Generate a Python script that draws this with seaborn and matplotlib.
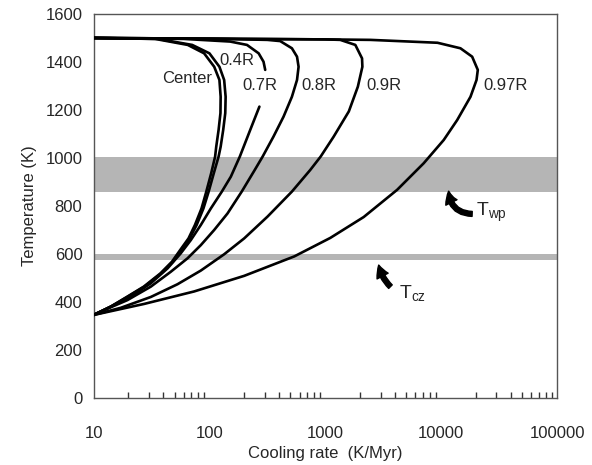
import numpy as np
import pandas as pd
import matplotlib
matplotlib.use("Agg")
import matplotlib.pyplot as plt
import matplotlib.ticker as mticker
import seaborn as sns

# Cooling-rate paths (K/Myr) and temperatures (K) at different radial depths
center_rate = [10, 34, 65, 90, 110, 122, 125, 124.5, 120, 114.5, 112, 103.5, 94, 85.5, 75, 66, 56, 47.5, 37.7, 27.1, 19.5, 14.1, 10]
center_temp = [1500, 1496, 1471, 1436, 1380, 1325, 1255, 1187, 1117, 1047, 1006, 936, 860, 790, 721, 665, 617, 568, 519, 464, 422, 381, 346]

r04_rate = [10, 36, 71, 100, 122, 134, 138, 137, 131.5, 125, 120, 109, 98.5, 88.8, 77.6, 67.6, 57.2, 48.5, 38.3, 27.5, 19.7, 14.1, 10]
r04_temp = [1500, 1496, 1471, 1436, 1380, 1325, 1255, 1187, 1117, 1047, 1006, 936, 860, 790, 721, 665, 617, 568, 519, 464, 422, 381, 346]

r07_upper_rate = [10, 60, 151, 211, 266, 293, 303]
r07_upper_temp = [1500, 1496, 1485, 1471, 1436, 1401, 1367]
r07_lower_rate = [270, 225, 183, 153, 128, 102.9, 84.3, 69.1, 56.6, 43.5, 31.2, 20.9, 14.1, 10]
r07_lower_temp = [1214, 1117, 1006, 922, 860, 790, 721, 658, 603, 540, 478, 422, 381, 346]

r08_rate = [10, 100, 316, 408, 515, 570, 588, 570, 515, 436, 357, 288, 246, 190, 143.3, 109.9, 84.3, 64.7, 46.4, 31.2, 19.6, 10]
r08_temp = [1500, 1497, 1492, 1487, 1457, 1422, 1380, 1325, 1255, 1172, 1089, 1006, 950, 860, 769, 700, 637, 582, 526, 464, 408, 347]

r09_rate = [10, 100, 1000, 1346, 1816, 2075, 2089, 1909, 1596, 1181, 912, 741, 515, 317.5, 199.5, 134.1, 84.3, 53, 31.2, 17.2, 10]
r09_temp = [1500, 1497, 1494, 1492, 1471, 1415, 1380, 1297, 1194, 1089, 1006, 950, 860, 756, 665, 599, 531, 474, 421, 376, 346]

r097_rate = [10, 100, 1000, 2450, 9290, 14660, 18500, 20700, 20180, 17900, 13740, 10520, 7063, 4159, 2144, 1104, 540, 199.5, 73.8, 27.3, 10]
r097_temp = [1500, 1497, 1494, 1492, 1480, 1457, 1422, 1367, 1325, 1255, 1158, 1075, 978, 867, 754, 667, 590, 509, 444, 392, 346]

curve_labels = ["Center", "0.4R", "0.7R", "0.8R", "0.9R", "0.97R"]
label_rate = [64, 172, 274, 887, 3200, 35900]
label_temp = [1333, 1408, 1304, 1304, 1304, 1304]

# Temperature ranges of the two shaded bands (K)
twp_band = (860, 1003)
tcz_band = (575, 598)

segments = [
    ("Center", center_rate, center_temp),
    ("0.4R", r04_rate, r04_temp),
    ("0.7R a", r07_upper_rate, r07_upper_temp),
    ("0.7R b", r07_lower_rate, r07_lower_temp),
    ("0.8R", r08_rate, r08_temp),
    ("0.9R", r09_rate, r09_temp),
    ("0.97R", r097_rate, r097_temp),
]
frames = []
for name, rate, temp in segments:
    frames.append(pd.DataFrame({"seg": name, "rate": rate, "temp": temp}))
df = pd.concat(frames, ignore_index=True)

sns.set_style("white")
plt.rcParams["font.family"] = ["Liberation Sans", "DejaVu Sans"]
plt.rcParams["mathtext.fontset"] = "custom"
plt.rcParams["mathtext.rm"] = "Liberation Sans"
plt.rcParams["mathtext.it"] = "Liberation Sans"

fig = plt.figure(figsize=(5.92, 4.65), dpi=100)
ax = fig.add_axes([0.158, 0.144, 0.783, 0.826])

band_color = "#b5b5b5"
ax.axhspan(*twp_band, color=band_color, lw=0, zorder=0)
ax.axhspan(*tcz_band, color=band_color, lw=0, zorder=0)

sns.lineplot(data=df, x="rate", y="temp", units="seg", estimator=None,
             sort=False, color="black", lw=1.9, ax=ax, legend=False, zorder=3,
             solid_joinstyle="round", solid_capstyle="round")

ax.set_xscale("log")
ax.set_xlim(10, 1e5)
ax.set_ylim(0, 1600)
ax.set_yticks(np.arange(0, 1601, 200))
ax.xaxis.set_major_formatter(mticker.FuncFormatter(lambda v, _: f"{v:g}"))
ax.xaxis.set_minor_locator(mticker.LogLocator(base=10, subs=np.arange(2, 10)))
ax.xaxis.set_minor_formatter(mticker.NullFormatter())

for side in ["left", "right", "top", "bottom"]:
    ax.spines[side].set_color("#555555")
    ax.spines[side].set_linewidth(1.0)
ax.tick_params(axis="both", which="major", direction="in", length=6, width=1,
               color="#333333", labelsize=12)
ax.tick_params(axis="y", which="major", pad=8)
ax.tick_params(axis="x", which="major", pad=20)
ax.tick_params(axis="x", which="minor", direction="in", length=4, width=1,
               color="#333333", bottom=True)
ax.tick_params(axis="y", which="both", right=False)
ax.tick_params(axis="x", which="both", top=False)

ax.set_xlabel("Cooling rate  (K/Myr)", fontsize=12, labelpad=4)
ax.set_ylabel("Temperature (K)", fontsize=12, labelpad=6)

for lab, xr, yt in zip(curve_labels, label_rate, label_temp):
    ax.text(xr, yt, lab, fontsize=12, ha="center", va="center", zorder=4)

ax.text(19800, 775, r"$\mathrm{T}_{\mathrm{wp}}$", fontsize=14, ha="left", va="center")
ax.text(4300, 437, r"$\mathrm{T}_{\mathrm{cz}}$", fontsize=14, ha="left", va="center")

arrow_kw = dict(arrowstyle="simple,head_length=0.7,head_width=0.75,tail_width=0.3",
                fc="black", ec="black", mutation_scale=12, shrinkA=0, shrinkB=0)
ax.annotate("", xy=(11600, 862), xytext=(18500, 767),
            arrowprops=dict(connectionstyle="arc3,rad=-0.45", **arrow_kw))
ax.annotate("", xy=(2890, 554), xytext=(3650, 464),
            arrowprops=dict(connectionstyle="arc3,rad=-0.15", **arrow_kw))

fig.savefig("out.png", dpi=100)
